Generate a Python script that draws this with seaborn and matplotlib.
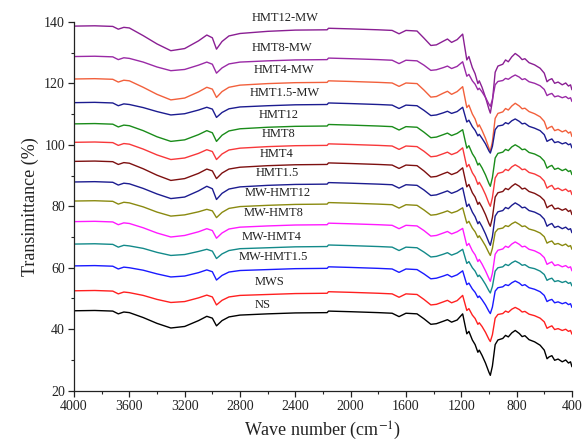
import numpy as np
import pandas as pd
import matplotlib
matplotlib.use("Agg")
import matplotlib.pyplot as plt
from matplotlib.ticker import MultipleLocator
import seaborn as sns

# Wavenumbers (cm-1) shared by every spectrum
wavenumber = [4000, 3850, 3720, 3680, 3640, 3600, 3500, 3400, 3300, 3200,
              3100, 3040, 3000, 2970, 2930, 2880, 2800, 2600, 2400, 2170,
              2160, 2000, 1800, 1700, 1650, 1600, 1520, 1470, 1420, 1380,
              1330, 1300, 1270, 1230, 1190, 1160, 1145, 1120, 1100, 1080,
              1070, 1050, 1025, 1000, 990, 975, 955, 935, 900, 880,
              860, 835, 810, 780, 760, 740, 710, 670, 630, 600,
              580, 565, 545, 525, 500, 470, 445, 425, 410, 400]

hmt12_mw = [138.6, 138.7, 138.5, 137.6, 138.2, 138.0, 135.5, 132.8, 130.6, 131.3,
            133.8, 135.7, 134.8, 131.1, 133.6, 135.4, 136.2, 136.9, 137.3, 137.4,
            137.9, 137.7, 137.4, 137.2, 136.1, 137.2, 137.0, 134.7, 132.3, 132.5,
            133.7, 134.4, 133.3, 134.2, 136.0, 127.6, 128.7, 125.1, 123.1, 119.9,
            120.8, 118.7, 115.4, 111.6, 110.3, 114.2, 123.6, 125.6, 126.2, 127.6,
            127.0, 128.6, 129.7, 128.7, 127.7, 128.0, 126.7, 126.0, 124.9, 123.3,
            120.5, 121.1, 121.5, 120.0, 120.4, 119.5, 120.1, 119.1, 119.5, 117.9]

hmt8_mw = [128.7, 128.8, 128.6, 127.7, 128.3, 128.1, 126.9, 125.3, 124.1, 124.5,
           125.9, 126.9, 126.2, 123.3, 125.0, 126.3, 126.9, 127.3, 127.6, 127.7,
           128.2, 128.0, 127.7, 127.5, 126.4, 127.5, 127.3, 125.9, 124.2, 124.4,
           125.1, 125.6, 124.8, 125.5, 127.0, 122.3, 122.9, 120.8, 119.7, 117.9,
           118.4, 117.2, 115.4, 113.2, 112.5, 114.7, 119.5, 120.6, 120.9, 121.6,
           121.3, 122.1, 122.7, 122.0, 121.2, 121.5, 120.5, 120.0, 119.2, 118.0,
           116.0, 116.4, 116.7, 115.6, 115.9, 115.3, 115.7, 115.0, 115.3, 114.1]

hmt4_mw = [121.4, 121.5, 121.3, 120.4, 121.0, 120.8, 118.7, 116.4, 114.6, 115.2,
           117.2, 118.7, 118.1, 115.4, 117.3, 118.7, 119.4, 119.9, 120.2, 120.3,
           120.8, 120.6, 120.3, 120.1, 119.0, 120.1, 119.9, 117.8, 115.5, 115.7,
           116.8, 117.4, 116.4, 117.3, 118.9, 112.1, 112.9, 110.0, 108.4, 105.8,
           106.5, 104.7, 102.1, 98.9, 97.9, 101.0, 108.6, 110.2, 110.7, 111.8,
           111.3, 112.6, 113.5, 112.6, 111.7, 111.9, 110.8, 110.1, 109.1, 107.6,
           105.1, 105.6, 106.0, 104.6, 105.0, 104.2, 104.7, 103.8, 104.2, 102.7]

hmt15_mw = [113.7, 113.8, 113.6, 112.7, 113.3, 113.1, 112.1, 110.8, 109.7, 110.1,
            111.3, 112.2, 111.6, 108.9, 110.5, 111.7, 112.3, 112.7, 113.0, 113.1,
            113.6, 113.4, 113.1, 112.9, 111.8, 112.9, 112.7, 111.2, 109.5, 109.7,
            110.4, 110.9, 110.2, 110.8, 112.2, 107.4, 108.0, 105.9, 104.7, 102.9,
            103.4, 102.1, 100.3, 98.0, 97.3, 99.5, 104.9, 106.1, 106.4, 107.2,
            106.8, 107.8, 108.4, 107.6, 106.8, 107.0, 106.0, 105.4, 104.6, 103.3,
            101.1, 101.5, 101.9, 100.7, 101.0, 100.3, 100.7, 100.0, 100.3, 99.0]

hmt12 = [106.8, 106.9, 106.7, 105.8, 106.4, 106.2, 104.6, 102.6, 101.1, 101.6,
         103.3, 104.6, 103.9, 101.1, 103.1, 104.5, 105.2, 105.7, 106.0, 106.1,
         106.6, 106.4, 106.1, 105.9, 104.8, 105.9, 105.7, 104.1, 102.3, 102.5,
         103.3, 103.8, 103.0, 103.7, 104.9, 98.9, 99.7, 97.1, 95.7, 93.4,
         94.0, 92.5, 90.2, 87.4, 86.5, 89.3, 95.7, 97.2, 97.6, 98.5,
         98.1, 99.3, 100.0, 99.2, 98.4, 98.6, 97.5, 97.0, 96.1, 94.7,
         92.4, 92.9, 93.3, 92.0, 92.4, 91.6, 92.1, 91.3, 91.6, 90.3]

hmt8 = [100.8, 100.9, 100.7, 99.8, 100.4, 100.2, 98.6, 96.7, 95.2, 95.7,
        97.2, 98.4, 97.8, 95.2, 97.0, 98.3, 98.9, 99.4, 99.7, 99.8,
        100.3, 100.1, 99.8, 99.6, 98.5, 99.6, 99.4, 97.9, 96.1, 96.3,
        97.1, 97.6, 96.8, 97.5, 99.0, 92.8, 93.6, 90.9, 89.5, 87.1,
        87.8, 86.2, 83.8, 80.9, 80.0, 82.8, 89.2, 90.7, 91.1, 92.0,
        91.6, 92.8, 93.5, 92.7, 91.9, 92.1, 91.0, 90.5, 89.6, 88.2,
        85.9, 86.4, 86.8, 85.5, 85.9, 85.1, 85.6, 84.8, 85.1, 83.8]

hmt4 = [94.6, 94.7, 94.5, 93.6, 94.2, 94.0, 92.2, 90.1, 88.4, 89.0,
        90.7, 92.1, 91.5, 89.0, 90.8, 92.1, 92.7, 93.2, 93.5, 93.6,
        94.1, 93.9, 93.6, 93.4, 92.3, 93.4, 93.2, 91.5, 89.5, 89.7,
        90.6, 91.1, 90.3, 91.0, 92.5, 86.3, 87.1, 84.4, 83.0, 80.6,
        81.3, 79.7, 77.3, 74.4, 73.5, 76.3, 83.0, 84.4, 84.8, 85.8,
        85.4, 86.5, 87.3, 86.5, 85.6, 85.9, 84.8, 84.2, 83.2, 81.9,
        79.5, 80.0, 80.4, 79.1, 79.4, 78.7, 79.2, 78.3, 78.7, 77.3]

hmt15 = [87.9, 88.0, 87.8, 86.9, 87.5, 87.3, 85.8, 84.0, 82.5, 83.0,
         85.0, 86.5, 85.7, 82.2, 84.2, 85.6, 86.3, 86.8, 87.1, 87.2,
         87.7, 87.5, 87.2, 87.0, 85.9, 87.0, 86.8, 85.3, 83.5, 83.7,
         84.5, 85.0, 84.2, 84.9, 86.0, 79.9, 80.7, 78.1, 76.6, 74.3,
         75.0, 73.4, 71.0, 68.2, 67.3, 70.1, 76.8, 78.2, 78.6, 79.6,
         79.2, 80.3, 81.1, 80.3, 79.5, 79.7, 78.6, 78.1, 77.2, 75.8,
         73.5, 74.0, 74.4, 73.1, 73.5, 72.7, 73.2, 72.4, 72.7, 71.4]

mw_hmt12 = [81.7, 81.8, 81.6, 80.7, 81.3, 81.1, 79.8, 78.1, 76.8, 77.2,
            78.2, 79.0, 78.5, 76.3, 78.0, 79.3, 79.9, 80.3, 80.6, 80.7,
            81.2, 81.0, 80.7, 80.5, 79.4, 80.5, 80.3, 78.8, 77.1, 77.3,
            78.0, 78.5, 77.8, 78.4, 79.5, 74.5, 75.1, 72.9, 71.7, 69.8,
            70.4, 69.0, 67.1, 64.8, 64.0, 66.3, 71.5, 72.6, 72.9, 73.7,
            73.4, 74.3, 74.9, 74.1, 73.4, 73.6, 72.6, 72.1, 71.3, 70.1,
            68.0, 68.4, 68.7, 67.6, 67.9, 67.2, 67.7, 66.9, 67.2, 66.0]

mw_hmt8 = [75.0, 75.1, 74.9, 74.0, 74.6, 74.4, 73.0, 71.3, 70.0, 70.5,
           71.7, 72.7, 72.1, 69.6, 71.3, 72.6, 73.2, 73.6, 73.9, 74.0,
           74.5, 74.3, 74.0, 73.8, 72.7, 73.8, 73.6, 72.1, 70.3, 70.5,
           71.3, 71.8, 71.0, 71.7, 72.8, 67.2, 67.9, 65.5, 64.2, 62.0,
           62.7, 61.2, 59.0, 56.5, 55.6, 58.2, 64.4, 65.7, 66.1, 67.0,
           66.6, 67.7, 68.4, 67.6, 66.8, 67.0, 66.0, 65.5, 64.6, 63.3,
           61.1, 61.5, 61.9, 60.7, 61.0, 60.3, 60.7, 60.0, 60.3, 59.0]

mw_hmt4 = [67.7, 67.8, 67.6, 66.7, 67.3, 67.1, 66.3, 65.0, 64.0, 64.3,
           65.3, 66.0, 65.4, 63.0, 64.5, 65.6, 66.2, 66.5, 66.8, 66.9,
           67.4, 67.2, 66.9, 66.7, 65.6, 66.7, 66.5, 65.1, 63.5, 63.7,
           64.4, 64.9, 64.1, 64.8, 66.0, 61.4, 62.0, 60.0, 58.9, 57.1,
           57.6, 56.4, 54.6, 52.5, 51.8, 53.9, 58.9, 60.0, 60.3, 61.1,
           60.7, 61.6, 62.2, 61.5, 60.8, 61.0, 60.1, 59.7, 58.9, 57.8,
           55.9, 56.3, 56.6, 55.5, 55.8, 55.2, 55.6, 54.9, 55.2, 54.1]

mw_hmt15 = [60.6, 60.7, 60.5, 59.6, 60.2, 60.0, 59.2, 58.0, 57.0, 57.3,
            58.4, 59.3, 58.7, 56.0, 57.5, 58.6, 59.1, 59.4, 59.7, 59.8,
            60.3, 60.1, 59.8, 59.6, 58.5, 59.6, 59.4, 58.0, 56.4, 56.6,
            57.3, 57.8, 57.0, 57.7, 59.0, 54.5, 55.0, 53.1, 52.0, 50.3,
            50.8, 49.6, 47.9, 45.8, 45.1, 47.2, 52.4, 53.5, 53.8, 54.5,
            54.2, 55.1, 55.7, 55.0, 54.2, 54.5, 53.5, 53.0, 52.2, 51.0,
            49.0, 49.4, 49.7, 48.6, 48.9, 48.3, 48.7, 48.0, 48.3, 47.1]

mws = [52.5, 52.6, 52.4, 51.5, 52.1, 51.9, 51.0, 49.7, 48.7, 49.0,
       50.2, 51.1, 50.5, 47.9, 49.4, 50.5, 51.0, 51.3, 51.6, 51.7,
       52.2, 52.0, 51.7, 51.5, 50.4, 51.5, 51.3, 49.7, 47.9, 48.1,
       48.9, 49.4, 48.6, 49.3, 51.0, 46.1, 46.7, 44.6, 43.5, 41.6,
       42.1, 40.9, 39.0, 36.7, 36.0, 38.2, 43.6, 44.8, 45.1, 45.9,
       45.5, 46.5, 47.1, 46.4, 45.6, 45.8, 44.9, 44.4, 43.6, 42.4,
       40.3, 40.7, 41.1, 39.9, 40.2, 39.6, 40.0, 39.3, 39.6, 38.4]

ns = [46.0, 46.1, 45.9, 45.0, 45.6, 45.4, 43.8, 41.9, 40.4, 40.9,
      42.8, 44.2, 43.6, 41.1, 42.8, 44.0, 44.6, 45.0, 45.3, 45.4,
      45.9, 45.7, 45.4, 45.2, 44.1, 45.2, 45.0, 43.4, 41.6, 41.8,
      42.6, 43.1, 42.3, 43.0, 45.0, 38.5, 39.3, 36.5, 35.0, 32.5,
      33.2, 31.5, 29.0, 26.0, 25.0, 28.0, 35.0, 36.5, 37.0, 38.0,
      37.5, 38.8, 39.6, 38.6, 37.6, 37.9, 36.6, 35.9, 34.8, 33.2,
      30.4, 31.0, 31.4, 29.9, 30.3, 29.4, 30.0, 29.0, 29.4, 27.8]

sample_names = ["HMT12-MW", "HMT8-MW", "HMT4-MW", "HMT1.5-MW", "HMT12", "HMT8",
                "HMT4", "HMT1.5", "MW-HMT12", "MW-HMT8", "MW-HMT4", "MW-HMT1.5",
                "MWS", "NS"]
spectra = [hmt12_mw, hmt8_mw, hmt4_mw, hmt15_mw, hmt12, hmt8, hmt4, hmt15,
           mw_hmt12, mw_hmt8, mw_hmt4, mw_hmt15, mws, ns]

# label anchor positions (wavenumber, transmittance)
label_x = [2475, 2494, 2480, 2480, 2518, 2523, 2534, 2529, 2529, 2556, 2569, 2556, 2588, 2636]
label_y = [141.1, 131.6, 124.4, 116.9, 109.7, 103.5, 96.9, 90.8, 84.2, 77.8, 70.0, 63.6, 55.4, 48.0]

colors = ["#8a1f93", "#9a2aa6", "#f2603c", "#1c1c90", "#1a8c1a", "#f8383a",
          "#7d1010", "#1c1c90", "#8a8a10", "#ff1aff", "#138a8a", "#1a1aff",
          "#ff2020", "#000000"]

rows = []
for name, vals in zip(sample_names, spectra):
    for w, v in zip(wavenumber, vals):
        rows.append((name, w, v))
df = pd.DataFrame(rows, columns=["sample", "wavenumber", "T"])

sns.set_style("ticks")
plt.rcParams["font.family"] = ["Liberation Serif", "DejaVu Serif"]
plt.rcParams["mathtext.fontset"] = "stix"

fig = plt.figure(figsize=(5.83, 4.45), dpi=100)
ax = fig.add_axes([0.127, 0.122, 0.854, 0.829])

sns.lineplot(data=df, x="wavenumber", y="T", hue="sample", hue_order=sample_names,
             palette=dict(zip(sample_names, colors)), estimator=None, sort=False,
             legend=False, linewidth=1.0, ax=ax)

for name, lx, ly in zip(sample_names, label_x, label_y):
    ax.text(lx, ly, name, ha="center", va="center", fontsize=9, color="#222222")

ax.set_xlim(4000, 400)
ax.set_ylim(20, 140)
ax.xaxis.set_major_locator(MultipleLocator(400))
ax.xaxis.set_minor_locator(MultipleLocator(200))
ax.yaxis.set_major_locator(MultipleLocator(20))
ax.yaxis.set_minor_locator(MultipleLocator(10))
ax.tick_params(axis="both", which="major", direction="out", length=4, width=0.9,
               labelsize=10, colors="#222222", pad=2.5)
ax.tick_params(axis="both", which="minor", direction="out", length=2.5, width=0.8)
for s in ["top", "right"]:
    ax.spines[s].set_visible(False)
for s in ["left", "bottom"]:
    ax.spines[s].set_linewidth(0.9)
    ax.spines[s].set_color("#222222")

ax.set_xlabel("Wave number (cm$^{-1}$)", fontsize=13, color="#222222", labelpad=5)
ax.set_ylabel("Transimittance (%)", fontsize=13, color="#222222", labelpad=4)

fig.savefig("out.png", dpi=100)
